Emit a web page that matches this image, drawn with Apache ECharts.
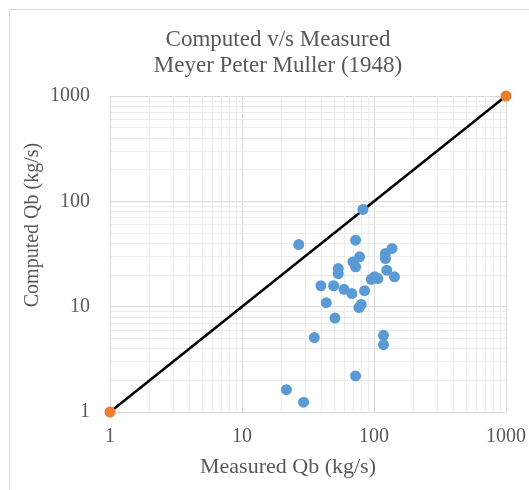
<!DOCTYPE html>
<html>
<head>
<meta charset="utf-8">
<script src="https://cdn.jsdelivr.net/npm/echarts@6/dist/echarts.min.js"></script>
<style>html,body{margin:0;padding:0;background:#fff;}#c{width:529px;height:490px;}</style>
</head>
<body>
<div id="c"></div>
<script>
// Measured vs computed bed load (kg/s)
const measured = [82.4, 26.9, 72.5, 137, 122, 122, 77.8, 69.2, 72.5, 53.6, 53.6, 125, 143, 101, 95.3, 107, 39.6, 49.4, 59.2, 68, 84.8, 43.5, 80, 76.9, 50.6, 35.3, 118, 118, 72.5, 21.7, 29.3];
const computed = [83.7, 38.9, 42.8, 35.7, 32, 28.6, 29.7, 26.6, 23.9, 23, 20.6, 22.2, 19.2, 19.2, 18.2, 18.5, 15.8, 15.8, 14.6, 13.3, 14.2, 10.9, 10.5, 9.8, 7.8, 5.09, 5.35, 4.36, 2.2, 1.63, 1.24];
const lineX = [1, 1000];
const lineY = [1, 1000];
const majorTicks = [1, 10, 100, 1000];
const minorMultipliers = [2, 3, 4, 5, 6, 7, 8, 9];

const serif = "'Liberation Serif','Times New Roman',serif";
const minorVals = [];
for (const d of majorTicks.slice(0, 3)) for (const m of minorMultipliers) minorVals.push(d * m);

const chart = echarts.init(document.getElementById('c'));
const axisCommon = {
  type: 'log', logBase: 10, min: 1, max: 1000,
  axisLine: { show: true, lineStyle: { color: '#d9d9d9' } },
  axisTick: { show: false },
  splitLine: { show: true, lineStyle: { color: '#d9d9d9', width: 1 } },
  axisLabel: { color: '#595959', fontFamily: serif, fontSize: 20, formatter: v => String(Math.round(v)) },
  z: 0
};
chart.setOption({
  animation: false,
  title: {
    text: 'Computed v/s Measured\nMeyer Peter Muller (1948)',
    left: 273, top: 22, textAlign: 'center',
    textStyle: { fontFamily: serif, fontSize: 23, fontWeight: 'normal', color: '#595959', lineHeight: 26 }
  },
  grid: { left: 110, right: 22, top: 96, bottom: 78 },
  xAxis: Object.assign({}, axisCommon, {
    axisLabel: Object.assign({}, axisCommon.axisLabel, { margin: 15 })
  }),
  yAxis: Object.assign({}, axisCommon, {
    axisLabel: Object.assign({}, axisCommon.axisLabel, { margin: 20 })
  }),
  graphic: [
    { type: 'rect', left: 7, top: 7, shape: { width: 540, height: 500 }, style: { fill: 'none', stroke: '#d9d9d9', lineWidth: 1 }, silent: true, z: -10 },
    { type: 'text', x: 288, y: 467, style: { text: 'Measured Qb (kg/s)', fontFamily: serif, fontSize: 22, fill: '#595959', align: 'center', verticalAlign: 'middle' } },
    { type: 'text', x: 33, y: 225, rotation: Math.PI / 2, style: { text: 'Computed Qb (kg/s)', fontFamily: serif, fontSize: 20, fill: '#595959', align: 'center', verticalAlign: 'middle' } }
  ],
  series: [
    {
      type: 'line', data: [],
      silent: true, z: 0,
      markLine: {
        silent: true, symbol: 'none', label: { show: false }, z: 0,
        lineStyle: { color: '#ececec', width: 1, type: 'solid' },
        data: minorVals.map(v => ({ xAxis: v })).concat(minorVals.map(v => ({ yAxis: v })))
      }
    },
    {
      type: 'line', data: lineX.map((x, i) => [x, lineY[i]]),
      lineStyle: { color: '#000', width: 2.5 },
      symbol: 'circle', symbolSize: 11,
      itemStyle: { color: '#ED7D31', opacity: 1 },
      z: 10
    },
    {
      type: 'scatter', data: measured.map((x, i) => [x, computed[i]]),
      symbol: 'circle', symbolSize: 11,
      itemStyle: { color: '#5B9BD5', opacity: 1 },
      z: 11
    }
  ]
});
</script>
</body>
</html>
